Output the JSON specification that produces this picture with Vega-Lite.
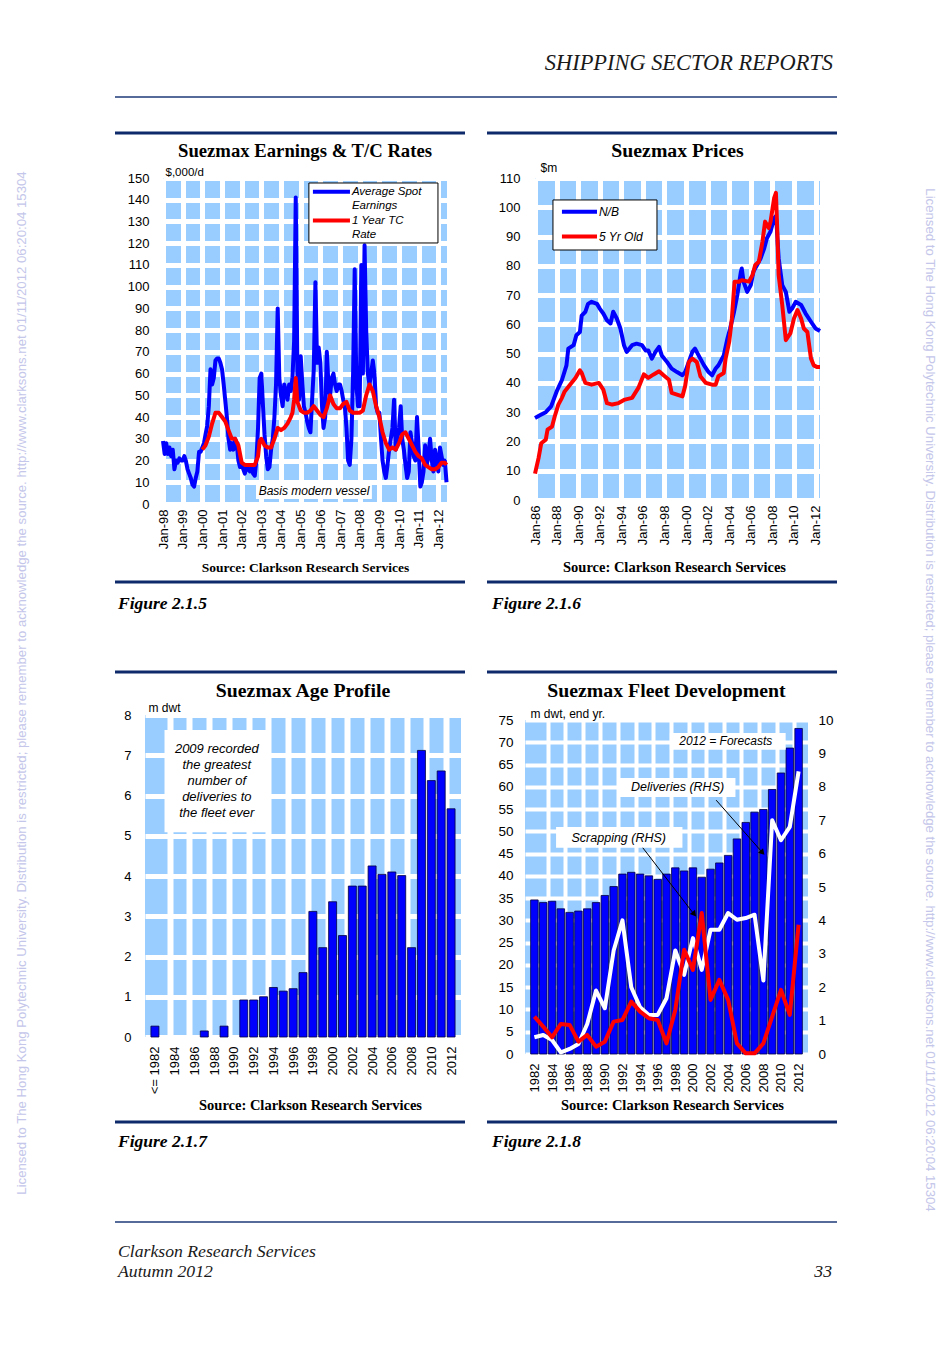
{
"$schema": "https://vega.github.io/schema/vega-lite/v6.json",
"background": "white",
"padding": 0,
"spacing": 0,
"bounds": "flush",
"config": {
  "view": {"stroke": null},
  "font": "Liberation Sans",
  "axis": {"labelFont": "Liberation Sans", "titleFont": "Liberation Sans", "labelColor": "#000000", "titleColor": "#000000", "domain": false, "ticks": false, "tickSize": 0},
  "title": {"font": "Liberation Serif", "fontWeight": "bold", "fontSize": 19.8, "color": "#000000", "anchor": "middle", "frame": "group"},
  "text": {"font": "Liberation Sans", "color": "#000000"}
},
"datasets": {
  "earnings": [
    {"d":"1998-01","spot":29},{"d":"1998-02","spot":23},{"d":"1998-03","spot":28},{"d":"1998-04","spot":23},{"d":"1998-05","spot":26},{"d":"1998-06","spot":22},{"d":"1998-07","spot":25},{"d":"1998-08","spot":16},{"d":"1998-09","spot":20},{"d":"1998-10","spot":19},{"d":"1998-11","spot":21},{"d":"1998-12","spot":20},
    {"d":"1999-01","spot":20},{"d":"1999-02","spot":22},{"d":"1999-03","spot":20},{"d":"1999-04","spot":16},{"d":"1999-05","spot":14},{"d":"1999-06","spot":12},{"d":"1999-07","spot":9},{"d":"1999-08","spot":8},{"d":"1999-09","spot":12},{"d":"1999-10","spot":15},{"d":"1999-11","spot":24},{"d":"1999-12","spot":24},
    {"d":"2000-01","spot":26,"tc":25},{"d":"2000-02","spot":28},{"d":"2000-03","spot":32,"tc":27},{"d":"2000-04","spot":36},{"d":"2000-05","spot":45,"tc":31},{"d":"2000-06","spot":62},{"d":"2000-07","spot":55,"tc":37},{"d":"2000-08","spot":58},{"d":"2000-09","spot":66,"tc":42},{"d":"2000-10","spot":67},{"d":"2000-11","spot":67,"tc":42},{"d":"2000-12","spot":65},
    {"d":"2001-01","spot":62,"tc":40},{"d":"2001-02","spot":55},{"d":"2001-03","spot":48,"tc":38},{"d":"2001-04","spot":40},{"d":"2001-05","spot":30,"tc":34},{"d":"2001-06","spot":25},{"d":"2001-07","spot":28,"tc":30},{"d":"2001-08","spot":25},{"d":"2001-09","spot":30,"tc":30},{"d":"2001-10","spot":28},{"d":"2001-11","spot":20,"tc":27},{"d":"2001-12","spot":17},
    {"d":"2002-01","spot":18,"tc":19},{"d":"2002-02","spot":16},{"d":"2002-03","spot":14,"tc":18},{"d":"2002-04","spot":17},{"d":"2002-05","spot":16,"tc":18},{"d":"2002-06","spot":15},{"d":"2002-07","spot":17,"tc":18},{"d":"2002-08","spot":14},{"d":"2002-09","spot":13,"tc":18},{"d":"2002-10","spot":20},{"d":"2002-11","spot":35,"tc":22},{"d":"2002-12","spot":58,"tc":29},
    {"d":"2003-01","spot":60,"tc":30},{"d":"2003-02","spot":45},{"d":"2003-03","spot":32,"tc":27},{"d":"2003-04","spot":22},{"d":"2003-05","spot":16,"tc":26},{"d":"2003-06","spot":17},{"d":"2003-07","spot":25,"tc":26},{"d":"2003-08","spot":30},{"d":"2003-09","spot":40,"tc":30},{"d":"2003-10","spot":55},{"d":"2003-11","spot":90,"tc":35},{"d":"2003-12","spot":58},
    {"d":"2004-01","spot":50,"tc":34},{"d":"2004-02","spot":45},{"d":"2004-03","spot":55,"tc":35},{"d":"2004-04","spot":52},{"d":"2004-05","spot":48,"tc":37},{"d":"2004-06","spot":55},{"d":"2004-07","spot":52,"tc":40},{"d":"2004-08","spot":58,"tc":42},{"d":"2004-09","spot":75,"tc":48},{"d":"2004-10","spot":141,"tc":58},{"d":"2004-11","spot":60,"tc":47},{"d":"2004-12","spot":48},
    {"d":"2005-01","spot":68,"tc":43},{"d":"2005-02","spot":55},{"d":"2005-03","spot":45,"tc":42},{"d":"2005-04","spot":42},{"d":"2005-05","spot":38,"tc":42},{"d":"2005-06","spot":35},{"d":"2005-07","spot":33,"tc":43},{"d":"2005-08","spot":48},{"d":"2005-09","spot":62,"tc":45},{"d":"2005-10","spot":102},{"d":"2005-11","spot":65,"tc":43},{"d":"2005-12","spot":72},
    {"d":"2006-01","spot":65,"tc":41},{"d":"2006-02","spot":45},{"d":"2006-03","spot":35,"tc":40},{"d":"2006-04","spot":40},{"d":"2006-05","spot":70,"tc":44},{"d":"2006-06","spot":55},{"d":"2006-07","spot":50,"tc":50},{"d":"2006-08","spot":58},{"d":"2006-09","spot":60,"tc":46},{"d":"2006-10","spot":55},{"d":"2006-11","spot":52,"tc":44},{"d":"2006-12","spot":55},
    {"d":"2007-01","spot":55,"tc":44},{"d":"2007-02","spot":52},{"d":"2007-03","spot":48,"tc":46},{"d":"2007-04","spot":45},{"d":"2007-05","spot":35,"tc":47},{"d":"2007-06","spot":20},{"d":"2007-07","spot":18,"tc":43},{"d":"2007-08","spot":30},{"d":"2007-09","spot":60,"tc":42},{"d":"2007-10","spot":108},{"d":"2007-11","spot":55,"tc":42},{"d":"2007-12","spot":45},
    {"d":"2008-01","spot":45,"tc":42},{"d":"2008-02","spot":110},{"d":"2008-03","spot":60,"tc":43},{"d":"2008-04","spot":119},{"d":"2008-05","spot":80,"tc":50},{"d":"2008-06","spot":60},{"d":"2008-07","spot":55,"tc":55},{"d":"2008-08","spot":60},{"d":"2008-09","spot":66,"tc":52},{"d":"2008-10","spot":60},{"d":"2008-11","spot":45,"tc":45},{"d":"2008-12","spot":42},
    {"d":"2009-01","spot":42,"tc":40},{"d":"2009-02","spot":30},{"d":"2009-03","spot":20,"tc":33},{"d":"2009-04","spot":15},{"d":"2009-05","spot":12,"tc":28},{"d":"2009-06","spot":18},{"d":"2009-07","spot":25,"tc":25},{"d":"2009-08","spot":30},{"d":"2009-09","spot":35,"tc":26},{"d":"2009-10","spot":48},{"d":"2009-11","spot":25,"tc":25},{"d":"2009-12","spot":30},
    {"d":"2010-01","spot":35,"tc":28},{"d":"2010-02","spot":45},{"d":"2010-03","spot":30,"tc":32},{"d":"2010-04","spot":25},{"d":"2010-05","spot":18,"tc":33},{"d":"2010-06","spot":12},{"d":"2010-07","spot":15,"tc":30},{"d":"2010-08","spot":33},{"d":"2010-09","spot":28,"tc":27},{"d":"2010-10","spot":22},{"d":"2010-11","spot":20,"tc":24},{"d":"2010-12","spot":40},
    {"d":"2011-01","spot":25,"tc":22},{"d":"2011-02","spot":8},{"d":"2011-03","spot":10,"tc":21},{"d":"2011-04","spot":15},{"d":"2011-05","spot":27,"tc":18},{"d":"2011-06","spot":18},{"d":"2011-07","spot":22,"tc":17},{"d":"2011-08","spot":30},{"d":"2011-09","spot":20,"tc":16},{"d":"2011-10","spot":15},{"d":"2011-11","spot":25,"tc":16},{"d":"2011-12","spot":20},
    {"d":"2012-01","spot":15,"tc":17},{"d":"2012-02","spot":26},{"d":"2012-03","spot":22,"tc":19},{"d":"2012-04","spot":18},{"d":"2012-05","spot":20,"tc":19},{"d":"2012-06","spot":10,"tc":18}
  ],
  "prices": [
    {"d":"1986-01","k":"N/B","v":28},{"d":"1986-07","k":"N/B","v":29},{"d":"1987-01","k":"N/B","v":30},{"d":"1987-07","k":"N/B","v":32},{"d":"1988-01","k":"N/B","v":37},{"d":"1988-07","k":"N/B","v":41},{"d":"1988-12","k":"N/B","v":46},{"d":"1989-02","k":"N/B","v":51.7},{"d":"1989-08","k":"N/B","v":52.9},{"d":"1989-11","k":"N/B","v":56.3},
    {"d":"1990-03","k":"N/B","v":57.4},{"d":"1990-05","k":"N/B","v":63},{"d":"1990-09","k":"N/B","v":64.3},{"d":"1990-12","k":"N/B","v":67},{"d":"1991-04","k":"N/B","v":67.7},{"d":"1991-10","k":"N/B","v":67},{"d":"1992-01","k":"N/B","v":65.4},{"d":"1992-05","k":"N/B","v":63.7},{"d":"1992-09","k":"N/B","v":61.4},{"d":"1993-01","k":"N/B","v":60.3},
    {"d":"1993-04","k":"N/B","v":64.3},{"d":"1993-08","k":"N/B","v":62},{"d":"1993-12","k":"N/B","v":58.6},{"d":"1994-04","k":"N/B","v":52.9},{"d":"1994-07","k":"N/B","v":50.6},{"d":"1995-01","k":"N/B","v":52.9},{"d":"1995-06","k":"N/B","v":53.4},{"d":"1995-12","k":"N/B","v":52.9},{"d":"1996-04","k":"N/B","v":51.1},{"d":"1996-07","k":"N/B","v":51.1},
    {"d":"1996-11","k":"N/B","v":48.3},{"d":"1997-03","k":"N/B","v":50.6},{"d":"1997-07","k":"N/B","v":52.3},{"d":"1997-10","k":"N/B","v":49.4},{"d":"1998-04","k":"N/B","v":47.1},{"d":"1998-09","k":"N/B","v":44.9},{"d":"1999-03","k":"N/B","v":43.7},{"d":"1999-09","k":"N/B","v":42.6},{"d":"1999-12","k":"N/B","v":43.7},{"d":"2000-04","k":"N/B","v":47.1},
    {"d":"2000-08","k":"N/B","v":50.6},{"d":"2000-11","k":"N/B","v":51.7},{"d":"2001-03","k":"N/B","v":49.4},{"d":"2001-09","k":"N/B","v":46},{"d":"2002-02","k":"N/B","v":43.7},{"d":"2002-06","k":"N/B","v":42.6},{"d":"2002-10","k":"N/B","v":44.9},{"d":"2003-01","k":"N/B","v":46},{"d":"2003-07","k":"N/B","v":49.4},{"d":"2003-11","k":"N/B","v":55.1},
    {"d":"2004-02","k":"N/B","v":58.6},{"d":"2004-06","k":"N/B","v":63.7},{"d":"2004-10","k":"N/B","v":70},{"d":"2005-02","k":"N/B","v":78},{"d":"2005-03","k":"N/B","v":79.1},{"d":"2005-05","k":"N/B","v":74.6},{"d":"2005-09","k":"N/B","v":71.1},{"d":"2006-01","k":"N/B","v":73.4},{"d":"2006-04","k":"N/B","v":78},{"d":"2006-08","k":"N/B","v":80.3},
    {"d":"2006-12","k":"N/B","v":82.6},{"d":"2007-04","k":"N/B","v":86},{"d":"2007-07","k":"N/B","v":89.4},{"d":"2007-11","k":"N/B","v":91.7},{"d":"2008-03","k":"N/B","v":96.3},{"d":"2008-05","k":"N/B","v":97},{"d":"2008-06","k":"N/B","v":92.9},{"d":"2008-08","k":"N/B","v":82.6},{"d":"2008-12","k":"N/B","v":73.4},{"d":"2009-04","k":"N/B","v":71.1},
    {"d":"2009-08","k":"N/B","v":64.3},{"d":"2009-11","k":"N/B","v":65.4},{"d":"2010-03","k":"N/B","v":67.7},{"d":"2010-09","k":"N/B","v":66.6},{"d":"2011-02","k":"N/B","v":63.7},{"d":"2011-08","k":"N/B","v":60.9},{"d":"2012-01","k":"N/B","v":58.6},{"d":"2012-06","k":"N/B","v":57.7},
    {"d":"1986-01","k":"5 Yr Old","v":9},{"d":"1986-05","k":"5 Yr Old","v":14.3},{"d":"1986-08","k":"5 Yr Old","v":19.4},{"d":"1987-01","k":"5 Yr Old","v":20.6},{"d":"1987-03","k":"5 Yr Old","v":24},{"d":"1987-08","k":"5 Yr Old","v":25.1},{"d":"1987-11","k":"5 Yr Old","v":28.6},{"d":"1988-03","k":"5 Yr Old","v":32.6},{"d":"1988-07","k":"5 Yr Old","v":34.9},{"d":"1988-10","k":"5 Yr Old","v":37.1},
    {"d":"1989-04","k":"5 Yr Old","v":39.4},{"d":"1989-10","k":"5 Yr Old","v":41.7},{"d":"1990-03","k":"5 Yr Old","v":44.3},{"d":"1990-05","k":"5 Yr Old","v":43.4},{"d":"1990-09","k":"5 Yr Old","v":40},{"d":"1991-04","k":"5 Yr Old","v":39.4},{"d":"1991-12","k":"5 Yr Old","v":40},{"d":"1992-05","k":"5 Yr Old","v":37.7},{"d":"1992-09","k":"5 Yr Old","v":33.1},{"d":"1993-03","k":"5 Yr Old","v":32.6},
    {"d":"1993-10","k":"5 Yr Old","v":33.1},{"d":"1994-05","k":"5 Yr Old","v":34.3},{"d":"1995-01","k":"5 Yr Old","v":34.9},{"d":"1995-08","k":"5 Yr Old","v":38.3},{"d":"1996-02","k":"5 Yr Old","v":42.9},{"d":"1996-07","k":"5 Yr Old","v":41.7},{"d":"1997-01","k":"5 Yr Old","v":42.9},{"d":"1997-07","k":"5 Yr Old","v":44},{"d":"1997-12","k":"5 Yr Old","v":42.6},{"d":"1998-06","k":"5 Yr Old","v":41.1},
    {"d":"1998-09","k":"5 Yr Old","v":36.6},{"d":"1999-03","k":"5 Yr Old","v":36},{"d":"1999-09","k":"5 Yr Old","v":35.4},{"d":"1999-12","k":"5 Yr Old","v":38.9},{"d":"2000-04","k":"5 Yr Old","v":47.1},{"d":"2000-08","k":"5 Yr Old","v":48.3},{"d":"2001-01","k":"5 Yr Old","v":47.1},{"d":"2001-05","k":"5 Yr Old","v":42.3},{"d":"2001-11","k":"5 Yr Old","v":40},{"d":"2002-06","k":"5 Yr Old","v":39.4},
    {"d":"2002-10","k":"5 Yr Old","v":39.4},{"d":"2003-01","k":"5 Yr Old","v":42.3},{"d":"2003-07","k":"5 Yr Old","v":43.4},{"d":"2003-09","k":"5 Yr Old","v":48.3},{"d":"2004-01","k":"5 Yr Old","v":54},{"d":"2004-04","k":"5 Yr Old","v":62},{"d":"2004-07","k":"5 Yr Old","v":74.6},{"d":"2004-12","k":"5 Yr Old","v":74.6},{"d":"2005-03","k":"5 Yr Old","v":75.1},{"d":"2005-11","k":"5 Yr Old","v":74.6},
    {"d":"2006-03","k":"5 Yr Old","v":76.9},{"d":"2006-06","k":"5 Yr Old","v":80.3},{"d":"2006-10","k":"5 Yr Old","v":81.4},{"d":"2007-02","k":"5 Yr Old","v":88.3},{"d":"2007-05","k":"5 Yr Old","v":95.1},{"d":"2007-09","k":"5 Yr Old","v":92.9},{"d":"2007-11","k":"5 Yr Old","v":95.1},{"d":"2008-03","k":"5 Yr Old","v":103.1},{"d":"2008-05","k":"5 Yr Old","v":104.9},{"d":"2008-06","k":"5 Yr Old","v":96.3},
    {"d":"2008-08","k":"5 Yr Old","v":76.9},{"d":"2008-12","k":"5 Yr Old","v":66.6},{"d":"2009-04","k":"5 Yr Old","v":54.6},{"d":"2009-09","k":"5 Yr Old","v":56.9},{"d":"2010-01","k":"5 Yr Old","v":62},{"d":"2010-05","k":"5 Yr Old","v":64.9},{"d":"2010-09","k":"5 Yr Old","v":62},{"d":"2010-12","k":"5 Yr Old","v":58.6},{"d":"2011-04","k":"5 Yr Old","v":57.4},{"d":"2011-08","k":"5 Yr Old","v":48.3},
    {"d":"2011-11","k":"5 Yr Old","v":46},{"d":"2012-03","k":"5 Yr Old","v":45.4},{"d":"2012-06","k":"5 Yr Old","v":45.4}
  ],
  "age": [
    {"year":1982,"dwt":0.27},{"year":1987,"dwt":0.15},{"year":1989,"dwt":0.27},{"year":1991,"dwt":0.92},{"year":1992,"dwt":0.92},{"year":1993,"dwt":1.0},{"year":1994,"dwt":1.23},{"year":1995,"dwt":1.14},{"year":1996,"dwt":1.2},{"year":1997,"dwt":1.6},
    {"year":1998,"dwt":3.12},{"year":1999,"dwt":2.22},{"year":2000,"dwt":3.36},{"year":2001,"dwt":2.52},{"year":2002,"dwt":3.75},{"year":2003,"dwt":3.75},{"year":2004,"dwt":4.25},{"year":2005,"dwt":4.04},{"year":2006,"dwt":4.1},{"year":2007,"dwt":4.01},
    {"year":2008,"dwt":2.22},{"year":2009,"dwt":7.12},{"year":2010,"dwt":6.37},{"year":2011,"dwt":6.61},{"year":2012,"dwt":5.67}
  ],
  "fleet": [
    {"year":1982,"fleet":34.6,"deliv":0.5,"scrap":1.12},{"year":1983,"fleet":34.0,"deliv":0.57,"scrap":0.82},{"year":1984,"fleet":34.3,"deliv":0.42,"scrap":0.5},{"year":1985,"fleet":32.6,"deliv":0.05,"scrap":0.9},{"year":1986,"fleet":31.8,"deliv":0.15,"scrap":0.87},
    {"year":1987,"fleet":32.1,"deliv":0.3,"scrap":0.37},{"year":1988,"fleet":32.6,"deliv":0.9,"scrap":0.57},{"year":1989,"fleet":34.0,"deliv":1.9,"scrap":0.22},{"year":1990,"fleet":35.6,"deliv":1.37,"scrap":0.37},{"year":1991,"fleet":37.6,"deliv":3.1,"scrap":0.97},
    {"year":1992,"fleet":40.4,"deliv":4.0,"scrap":1.02},{"year":1993,"fleet":40.8,"deliv":2.0,"scrap":1.57},{"year":1994,"fleet":40.4,"deliv":1.4,"scrap":1.27},{"year":1995,"fleet":40.0,"deliv":1.17,"scrap":1.07},{"year":1996,"fleet":39.2,"deliv":1.17,"scrap":1.02},
    {"year":1997,"fleet":40.4,"deliv":1.67,"scrap":0.32},{"year":1998,"fleet":41.8,"deliv":3.1,"scrap":1.32},{"year":1999,"fleet":41.1,"deliv":2.37,"scrap":3.12},{"year":2000,"fleet":41.8,"deliv":3.47,"scrap":2.52},{"year":2001,"fleet":39.7,"deliv":2.52,"scrap":4.22},
    {"year":2002,"fleet":41.5,"deliv":3.72,"scrap":1.62},{"year":2003,"fleet":42.9,"deliv":3.72,"scrap":2.22},{"year":2004,"fleet":44.6,"deliv":4.22,"scrap":1.62},{"year":2005,"fleet":48.3,"deliv":4.02,"scrap":0.32},{"year":2006,"fleet":52.0,"deliv":4.07,"scrap":0.02},
    {"year":2007,"fleet":54.3,"deliv":4.17,"scrap":0.02},{"year":2008,"fleet":54.9,"deliv":2.2,"scrap":0.32},{"year":2009,"fleet":59.4,"deliv":7.0,"scrap":1.12},{"year":2010,"fleet":63.1,"deliv":6.4,"scrap":1.92},{"year":2011,"fleet":68.7,"deliv":6.8,"scrap":1.17},
    {"year":2012,"fleet":73.1,"deliv":8.46,"scrap":3.87}
  ]
},
"vconcat": [
  {
    "width": 952, "height": 178,
    "view": {"fill": "white", "stroke": null},
    "data": {"values": [{}]},
    "layer": [
      {"mark": {"type": "text", "text": "SHIPPING SECTOR REPORTS", "font": "Liberation Serif", "fontStyle": "italic", "fontSize": 22.4, "align": "right", "baseline": "alphabetic", "color": "#1a1a1a"},
       "encoding": {"x": {"datum": 833, "type": "quantitative", "scale": {"domain": [0, 952], "nice": false, "zero": false}, "axis": null},
                    "y": {"datum": 70, "type": "quantitative", "scale": {"domain": [0, 178], "nice": false, "zero": false, "reverse": true}, "axis": null}}},
      {"mark": {"type": "rule", "color": "#1F3A7A", "strokeWidth": 1.5},
       "encoding": {"x": {"datum": 115, "type": "quantitative", "axis": null}, "x2": {"datum": 837}, "y": {"datum": 97, "type": "quantitative", "axis": null}}},
      {"mark": {"type": "rule", "color": "#0F2A6B", "strokeWidth": 3},
       "encoding": {"x": {"datum": 115, "type": "quantitative", "axis": null}, "x2": {"datum": 465}, "y": {"datum": 133, "type": "quantitative", "axis": null}}},
      {"mark": {"type": "rule", "color": "#0F2A6B", "strokeWidth": 3},
       "encoding": {"x": {"datum": 487, "type": "quantitative", "axis": null}, "x2": {"datum": 837}, "y": {"datum": 133, "type": "quantitative", "axis": null}}},
      {"mark": {"type": "text", "text": "Licensed to The Hong Kong Polytechnic University.  Distribution is restricted; please remember to acknowledge the source.  http://www.clarksons.net  01/11/2012 06:20:04 15304", "angle": 270, "fontSize": 13.2, "color": "#C4C6EA", "align": "center", "baseline": "middle"},
       "encoding": {"x": {"datum": 22, "type": "quantitative", "axis": null}, "y": {"datum": 683, "type": "quantitative", "axis": null}}},
      {"mark": {"type": "text", "text": "Licensed to The Hong Kong Polytechnic University.  Distribution is restricted; please remember to acknowledge the source.  http://www.clarksons.net  01/11/2012 06:20:04 15304", "angle": 90, "fontSize": 13.2, "color": "#C4C6EA", "align": "center", "baseline": "middle"},
       "encoding": {"x": {"datum": 930, "type": "quantitative", "axis": null}, "y": {"datum": 700, "type": "quantitative", "axis": null}}}
    ]
  },
  {
    "hconcat": [
      {"width": 163, "height": 1, "data": {"values": []}, "mark": "point"},
      {
        "width": 284, "height": 326,
        "view": {"fill": "#99CCFF", "stroke": null},
        "title": {"text": "Suezmax Earnings & T/C Rates", "offset": 6, "fontSize": 18.7},
        "resolve": {"axis": {"x": "independent", "y": "independent"}},
        "layer": [
          {
            "data": {"name": "earnings"},
            "transform": [{"fold": ["spot", "tc"], "as": ["k", "v"]}, {"filter": "isValid(datum.v)"}],
            "mark": {"type": "line", "strokeWidth": 4, "strokeJoin": "round"},
            "encoding": {
              "x": {"field": "d", "type": "temporal",
                "scale": {"domain": [{"year": 1998, "month": 1, "date": 1}, {"year": 2012, "month": 6, "date": 10}]},
                "axis": {"orient": "bottom", "values": [{"year":1998,"month":1,"date":1},{"year":1999,"month":1,"date":1},{"year":2000,"month":1,"date":1},{"year":2001,"month":1,"date":1},{"year":2002,"month":1,"date":1},{"year":2003,"month":1,"date":1},{"year":2004,"month":1,"date":1},{"year":2005,"month":1,"date":1},{"year":2006,"month":1,"date":1},{"year":2007,"month":1,"date":1},{"year":2008,"month":1,"date":1},{"year":2009,"month":1,"date":1},{"year":2010,"month":1,"date":1},{"year":2011,"month":1,"date":1},{"year":2012,"month":1,"date":1}],
                  "format": "%b-%y", "labelAngle": 270, "labelPadding": 5, "labelFontSize": 13, "labelFlush": false, "labelOverlap": false,
                  "grid": true, "gridColor": "white", "gridWidth": 5,
                  "title": "Source: Clarkson Research Services", "titleFont": "Liberation Serif", "titleFontSize": 13.5, "titleFontWeight": "bold", "titleBaseline": "middle", "titleY": 63}},
              "y": {"field": "v", "type": "quantitative", "scale": {"domain": [0, 150], "nice": false},
                "axis": {"orient": "left", "values": [0,10,20,30,40,50,60,70,80,90,100,110,120,130,140,150], "grid": true, "gridColor": "white", "gridWidth": 5, "labelPadding": 14, "labelFontSize": 13, "labelOverlap": false,
                  "title": "$,000/d", "titleAngle": 0, "titleAlign": "left", "titleBaseline": "alphabetic", "titleX": 2, "titleY": -2.5, "titleFontSize": 11.5, "titleFontWeight": "normal"}},
              "color": {"field": "k", "type": "nominal", "scale": {"domain": ["spot", "tc"], "range": ["#0000FF", "#FF0000"]}, "legend": null}
            }
          },
          {
            "data": {"values": [{}]},
            "mark": {"type": "rect", "fill": "white", "stroke": "black", "strokeWidth": 1},
            "encoding": {"x": {"datum": {"year": 2005, "month": 6, "date": 2}, "type": "temporal", "axis": null}, "x2": {"datum": {"year": 2011, "month": 12, "date": 25}},
                         "y": {"datum": 147.7, "type": "quantitative", "axis": null}, "y2": {"datum": 120.1}}
          },
          {
            "data": {"values": [{}]},
            "mark": {"type": "rule", "color": "#0000FF", "strokeWidth": 4},
            "encoding": {"x": {"datum": {"year": 2005, "month": 8, "date": 16}, "type": "temporal", "axis": null}, "x2": {"datum": {"year": 2007, "month": 7, "date": 5}},
                         "y": {"datum": 143.7, "type": "quantitative", "axis": null}}
          },
          {
            "data": {"values": [{}]},
            "mark": {"type": "rule", "color": "#FF0000", "strokeWidth": 4},
            "encoding": {"x": {"datum": {"year": 2005, "month": 8, "date": 16}, "type": "temporal", "axis": null}, "x2": {"datum": {"year": 2007, "month": 7, "date": 5}},
                         "y": {"datum": 130.4, "type": "quantitative", "axis": null}}
          },
          {
            "data": {"values": [{}]},
            "mark": {"type": "text", "text": ["Average Spot", "Earnings"], "fontStyle": "italic", "fontSize": 11.5, "lineHeight": 14.3, "align": "left", "baseline": "middle"},
            "encoding": {"x": {"datum": {"year": 2007, "month": 8, "date": 10}, "type": "temporal", "axis": null}, "y": {"datum": 143.7, "type": "quantitative", "axis": null}}
          },
          {
            "data": {"values": [{}]},
            "mark": {"type": "text", "text": ["1 Year TC", "Rate"], "fontStyle": "italic", "fontSize": 11.5, "lineHeight": 14.3, "align": "left", "baseline": "middle"},
            "encoding": {"x": {"datum": {"year": 2007, "month": 8, "date": 10}, "type": "temporal", "axis": null}, "y": {"datum": 130.4, "type": "quantitative", "axis": null}}
          },
          {
            "data": {"values": [{}]},
            "mark": {"type": "rect", "fill": "white"},
            "encoding": {"x": {"datum": {"year": 2002, "month": 9, "date": 24}, "type": "temporal", "axis": null}, "x2": {"datum": {"year": 2008, "month": 8, "date": 15}},
                         "y": {"datum": 9.7, "type": "quantitative", "axis": null}, "y2": {"datum": 2.3}}
          },
          {
            "data": {"values": [{}]},
            "mark": {"type": "text", "text": "Basis modern vessel", "fontStyle": "italic", "fontSize": 12, "align": "center", "baseline": "middle"},
            "encoding": {"x": {"datum": {"year": 2005, "month": 9, "date": 5}, "type": "temporal", "axis": null}, "y": {"datum": 6, "type": "quantitative", "axis": null}}
          }
        ]
      },
      {"width": 88, "height": 1, "data": {"values": []}, "mark": "point"},
      {
        "width": 285, "height": 322,
        "view": {"fill": "#99CCFF", "stroke": null},
        "title": {"text": "Suezmax Prices", "offset": 0},
        "resolve": {"axis": {"x": "independent", "y": "independent"}},
        "layer": [
          {
            "data": {"name": "prices"},
            "mark": {"type": "line", "strokeWidth": 4, "strokeJoin": "round"},
            "encoding": {
              "x": {"field": "d", "type": "temporal",
                "scale": {"domain": [{"year": 1986, "month": 1, "date": 1}, {"year": 2012, "month": 6, "date": 1}]},
                "axis": {"orient": "bottom", "values": [{"year":1986,"month":1,"date":1},{"year":1988,"month":1,"date":1},{"year":1990,"month":1,"date":1},{"year":1992,"month":1,"date":1},{"year":1994,"month":1,"date":1},{"year":1996,"month":1,"date":1},{"year":1998,"month":1,"date":1},{"year":2000,"month":1,"date":1},{"year":2002,"month":1,"date":1},{"year":2004,"month":1,"date":1},{"year":2006,"month":1,"date":1},{"year":2008,"month":1,"date":1},{"year":2010,"month":1,"date":1},{"year":2012,"month":1,"date":1}],
                  "format": "%b-%y", "labelAngle": 270, "labelPadding": 5, "labelFontSize": 13, "labelFlush": false, "labelOverlap": false,
                  "grid": true, "gridColor": "white", "gridWidth": 5,
                  "title": "Source: Clarkson Research Services", "titleFont": "Liberation Serif", "titleFontSize": 14.5, "titleFontWeight": "bold", "titleBaseline": "middle", "titleY": 67, "titleX": 139}},
              "y": {"field": "v", "type": "quantitative", "scale": {"domain": [0, 110], "nice": false},
                "axis": {"orient": "left", "values": [0,10,20,30,40,50,60,70,80,90,100,110], "grid": true, "gridColor": "white", "gridWidth": 5, "labelPadding": 15, "labelFontSize": 13, "labelOverlap": false,
                  "title": "$m", "titleAngle": 0, "titleAlign": "left", "titleBaseline": "alphabetic", "titleX": 5, "titleY": -7, "titleFontSize": 12, "titleFontWeight": "normal"}},
              "color": {"field": "k", "type": "nominal", "scale": {"domain": ["N/B", "5 Yr Old"], "range": ["#0000FF", "#FF0000"]}, "legend": null}
            }
          },
          {
            "data": {"values": [{}]},
            "mark": {"type": "rect", "fill": "white", "stroke": "black", "strokeWidth": 1},
            "encoding": {"x": {"datum": {"year": 1987, "month": 9, "date": 1}, "type": "temporal", "axis": null}, "x2": {"datum": {"year": 1997, "month": 4, "date": 22}},
                         "y": {"datum": 102.5, "type": "quantitative", "axis": null}, "y2": {"datum": 85.4}}
          },
          {
            "data": {"values": [{}]},
            "mark": {"type": "rule", "color": "#0000FF", "strokeWidth": 4},
            "encoding": {"x": {"datum": {"year": 1988, "month": 7, "date": 1}, "type": "temporal", "axis": null}, "x2": {"datum": {"year": 1991, "month": 10, "date": 1}},
                         "y": {"datum": 98.5, "type": "quantitative", "axis": null}}
          },
          {
            "data": {"values": [{}]},
            "mark": {"type": "rule", "color": "#FF0000", "strokeWidth": 4},
            "encoding": {"x": {"datum": {"year": 1988, "month": 7, "date": 1}, "type": "temporal", "axis": null}, "x2": {"datum": {"year": 1991, "month": 10, "date": 1}},
                         "y": {"datum": 90.0, "type": "quantitative", "axis": null}}
          },
          {
            "data": {"values": [{}]},
            "mark": {"type": "text", "text": "N/B", "fontStyle": "italic", "fontSize": 12, "align": "left", "baseline": "middle"},
            "encoding": {"x": {"datum": {"year": 1991, "month": 12, "date": 5}, "type": "temporal", "axis": null}, "y": {"datum": 98.5, "type": "quantitative", "axis": null}}
          },
          {
            "data": {"values": [{}]},
            "mark": {"type": "text", "text": "5 Yr Old", "fontStyle": "italic", "fontSize": 12, "align": "left", "baseline": "middle"},
            "encoding": {"x": {"datum": {"year": 1991, "month": 12, "date": 5}, "type": "temporal", "axis": null}, "y": {"datum": 90.0, "type": "quantitative", "axis": null}}
          }
        ]
      }
    ],
    "spacing": 0, "bounds": "flush"
  },
  {"width": 1, "height": 326, "data": {"values": []}, "mark": "point"},
  {
    "width": 952, "height": 211,
    "data": {"values": [{}]},
    "layer": [
      {"mark": {"type": "rule", "color": "#0F2A6B", "strokeWidth": 3},
       "encoding": {"x": {"datum": 115, "type": "quantitative", "scale": {"domain": [0, 952], "nice": false, "zero": false}, "axis": null}, "x2": {"datum": 465},
                    "y": {"datum": 582, "type": "quantitative", "scale": {"domain": [504, 715], "nice": false, "zero": false, "reverse": true}, "axis": null}}},
      {"mark": {"type": "rule", "color": "#0F2A6B", "strokeWidth": 3},
       "encoding": {"x": {"datum": 487, "type": "quantitative", "axis": null}, "x2": {"datum": 837}, "y": {"datum": 582, "type": "quantitative", "axis": null}}},
      {"mark": {"type": "text", "text": "Figure 2.1.5", "font": "Liberation Serif", "fontStyle": "italic", "fontWeight": "bold", "fontSize": 17.5, "align": "left", "baseline": "alphabetic"},
       "encoding": {"x": {"datum": 118, "type": "quantitative", "axis": null}, "y": {"datum": 609, "type": "quantitative", "axis": null}}},
      {"mark": {"type": "text", "text": "Figure 2.1.6", "font": "Liberation Serif", "fontStyle": "italic", "fontWeight": "bold", "fontSize": 17.5, "align": "left", "baseline": "alphabetic"},
       "encoding": {"x": {"datum": 492, "type": "quantitative", "axis": null}, "y": {"datum": 609, "type": "quantitative", "axis": null}}},
      {"mark": {"type": "rule", "color": "#0F2A6B", "strokeWidth": 3},
       "encoding": {"x": {"datum": 115, "type": "quantitative", "axis": null}, "x2": {"datum": 465}, "y": {"datum": 672, "type": "quantitative", "axis": null}}},
      {"mark": {"type": "rule", "color": "#0F2A6B", "strokeWidth": 3},
       "encoding": {"x": {"datum": 487, "type": "quantitative", "axis": null}, "x2": {"datum": 837}, "y": {"datum": 672, "type": "quantitative", "axis": null}}}
    ]
  },
  {
    "hconcat": [
      {"width": 145, "height": 1, "data": {"values": []}, "mark": "point"},
      {
        "width": 316, "height": 322,
        "view": {"fill": "#99CCFF", "stroke": null},
        "title": {"text": "Suezmax Age Profile", "offset": 0},
        "resolve": {"axis": {"x": "independent", "y": "independent"}},
        "layer": [
          {
            "data": {"name": "age"},
            "mark": {"type": "bar", "orient": "vertical", "width": 8, "color": "#0000FF", "stroke": "#000040", "strokeWidth": 0.8},
            "encoding": {
              "x": {"field": "year", "type": "quantitative", "scale": {"domain": [1981.5, 2012.5], "nice": false, "zero": false},
                "axis": {"orient": "bottom", "values": [1982,1983.5,1984,1985.5,1986,1987.5,1988,1989.5,1990,1991.5,1992,1993.5,1994,1995.5,1996,1997.5,1998,1999.5,2000,2001.5,2002,2003.5,2004,2005.5,2006,2007.5,2008,2009.5,2010,2011.5,2012],
                  "format": "d", "labelExpr": "datum.value == 1982 ? '<= 1982' : (datum.value % 2 == 0 ? datum.label : '')",
                  "labelAngle": 270, "labelPadding": 9, "labelFontSize": 13, "labelFlush": false, "labelOverlap": false,
                  "grid": true, "gridColor": "white", "gridWidth": 6, "gridOpacity": {"condition": {"test": "datum.value % 1 != 0", "value": 1}, "value": 0},
                  "title": "Source: Clarkson Research Services", "titleFont": "Liberation Serif", "titleFontSize": 14.5, "titleFontWeight": "bold", "titleBaseline": "middle", "titleY": 68, "titleX": 165}},
              "y": {"field": "dwt", "type": "quantitative", "scale": {"domain": [0, 8], "nice": false},
                "axis": {"orient": "left", "values": [0,1,2,3,4,5,6,7,8], "grid": true, "gridColor": "white", "gridWidth": 5, "labelPadding": 14, "labelFontSize": 13,
                  "title": "m dwt", "titleAngle": 0, "titleAlign": "left", "titleBaseline": "alphabetic", "titleX": 3, "titleY": -4, "titleFontSize": 12, "titleFontWeight": "normal"}}
            }
          },
          {
            "data": {"values": [{}]},
            "mark": {"type": "rect", "fill": "white"},
            "encoding": {"x": {"datum": 1982.97, "type": "quantitative", "axis": null}, "x2": {"datum": 1993.28}, "y": {"datum": 7.63, "type": "quantitative", "axis": null}, "y2": {"datum": 5.09}}
          },
          {
            "data": {"values": [{}]},
            "mark": {"type": "text", "text": ["2009 recorded", "the greatest", "number of", "deliveries to", "the fleet ever"], "fontStyle": "italic", "fontSize": 13, "lineHeight": 16.1, "align": "center", "baseline": "middle"},
            "encoding": {"x": {"datum": 1988.27, "type": "quantitative", "axis": null}, "y": {"datum": 7.155, "type": "quantitative", "axis": null}}
          }
        ]
      },
      {"width": 64, "height": 1, "data": {"values": []}, "mark": "point"},
      {
        "vconcat": [
          {"width": 283, "height": 1, "data": {"values": []}, "mark": "point"},
          {
            "width": 283, "height": 334,
            "view": {"fill": "#99CCFF", "stroke": null},
            "title": {"text": "Suezmax Fleet Development", "offset": 6.5},
            "resolve": {"scale": {"y": "independent"}, "axis": {"x": "independent", "y": "independent"}},
            "layer": [
              {
                "data": {"name": "fleet"},
                "mark": {"type": "bar", "orient": "vertical", "width": 7.5, "color": "#0000FF", "stroke": "#000040", "strokeWidth": 0.8},
                "encoding": {
                  "x": {"field": "year", "type": "quantitative", "scale": {"domain": [1981.5, 2012.5], "nice": false, "zero": false},
                    "axis": {"orient": "bottom", "values": [1982,1983.5,1984,1985.5,1986,1987.5,1988,1989.5,1990,1991.5,1992,1993.5,1994,1995.5,1996,1997.5,1998,1999.5,2000,2001.5,2002,2003.5,2004,2005.5,2006,2007.5,2008,2009.5,2010,2011.5,2012],
                      "format": "d", "labelExpr": "datum.value % 2 == 0 ? datum.label : ''",
                      "labelAngle": 270, "labelPadding": 9, "labelFontSize": 13, "labelFlush": false, "labelOverlap": false,
                      "grid": true, "gridColor": "white", "gridWidth": 4, "gridOpacity": {"condition": {"test": "datum.value % 1 != 0", "value": 1}, "value": 0},
                      "title": "Source: Clarkson Research Services", "titleFont": "Liberation Serif", "titleFontSize": 14.5, "titleFontWeight": "bold", "titleBaseline": "middle", "titleY": 51, "titleX": 147}},
                  "y": {"field": "fleet", "type": "quantitative", "scale": {"domain": [0, 75], "nice": false},
                    "axis": {"orient": "left", "values": [0,5,10,15,20,25,30,35,40,45,50,55,60,65,70,75], "grid": true, "gridColor": "white", "gridWidth": 4, "labelPadding": 12, "labelFontSize": 13.5,
                      "title": "m dwt, end yr.", "titleAngle": 0, "titleAlign": "left", "titleBaseline": "alphabetic", "titleX": 5, "titleY": -3, "titleFontSize": 12, "titleFontWeight": "normal"}}
                }
              },
              {
                "data": {"name": "fleet"},
                "resolve": {"axis": {"x": "independent", "y": "independent"}},
                "layer": [
                  {
                    "mark": {"type": "line", "color": "#FFFFFF", "strokeWidth": 4, "strokeJoin": "round"},
                    "encoding": {
                      "x": {"field": "year", "type": "quantitative", "axis": null},
                      "y": {"field": "deliv", "type": "quantitative", "scale": {"domain": [0, 10], "nice": false},
                        "axis": {"orient": "right", "values": [0,1,2,3,4,5,6,7,8,9,10], "grid": false, "labelPadding": 10, "labelFontSize": 13.5, "title": null}}
                    }
                  },
                  {
                    "mark": {"type": "line", "color": "#FF0000", "strokeWidth": 4, "strokeJoin": "round"},
                    "encoding": {
                      "x": {"field": "year", "type": "quantitative", "axis": null},
                      "y": {"field": "scrap", "type": "quantitative", "axis": null}
                    }
                  }
                ]
              },
              {
                "data": {"values": [{}]},
                "layer": [
                  {"mark": {"type": "rect", "fill": "white"},
                   "encoding": {"x": {"datum": 1997.38, "type": "quantitative", "axis": null}, "x2": {"datum": 2010.53}, "y": {"datum": 72.1, "type": "quantitative", "scale": {"domain": [0, 75], "nice": false}, "axis": null}, "y2": {"datum": 68.3}}},
                  {"mark": {"type": "rect", "fill": "white"},
                   "encoding": {"x": {"datum": 1991.69, "type": "quantitative", "axis": null}, "x2": {"datum": 2004.83}, "y": {"datum": 62.0, "type": "quantitative", "axis": null}, "y2": {"datum": 57.7}}},
                  {"mark": {"type": "rect", "fill": "white"},
                   "encoding": {"x": {"datum": 1984.46, "type": "quantitative", "axis": null}, "x2": {"datum": 1998.81}, "y": {"datum": 51.0, "type": "quantitative", "axis": null}, "y2": {"datum": 46.3}}},
                  {"mark": {"type": "text", "text": "2012 = Forecasts", "fontStyle": "italic", "fontSize": 12, "align": "center", "baseline": "middle"},
                   "encoding": {"x": {"datum": 2003.73, "type": "quantitative", "axis": null}, "y": {"datum": 70.3, "type": "quantitative", "axis": null}}},
                  {"mark": {"type": "text", "text": "Deliveries (RHS)", "fontStyle": "italic", "fontSize": 12.5, "align": "center", "baseline": "middle"},
                   "encoding": {"x": {"datum": 1998.26, "type": "quantitative", "axis": null}, "y": {"datum": 60.0, "type": "quantitative", "axis": null}}},
                  {"mark": {"type": "text", "text": "Scrapping (RHS)", "fontStyle": "italic", "fontSize": 12.5, "align": "center", "baseline": "middle"},
                   "encoding": {"x": {"datum": 1991.58, "type": "quantitative", "axis": null}, "y": {"datum": 48.5, "type": "quantitative", "axis": null}}},
                  {"mark": {"type": "rule", "color": "black", "strokeWidth": 1},
                   "encoding": {"x": {"datum": 2002.64, "type": "quantitative", "axis": null}, "y": {"datum": 57.0, "type": "quantitative", "axis": null}, "x2": {"datum": 2008.0}, "y2": {"datum": 45.0}}},
                  {"mark": {"type": "rule", "color": "black", "strokeWidth": 1},
                   "encoding": {"x": {"datum": 1994.31, "type": "quantitative", "axis": null}, "y": {"datum": 46.3, "type": "quantitative", "axis": null}, "x2": {"datum": 2000.2}, "y2": {"datum": 31.2}}},
                  {"mark": {"type": "point", "shape": "triangle-up", "filled": true, "color": "black", "opacity": 1, "size": 45, "angle": 138},
                   "encoding": {"x": {"datum": 2007.9, "type": "quantitative", "axis": null}, "y": {"datum": 45.2, "type": "quantitative", "axis": null}}},
                  {"mark": {"type": "point", "shape": "triangle-up", "filled": true, "color": "black", "opacity": 1, "size": 45, "angle": 141},
                   "encoding": {"x": {"datum": 2000.15, "type": "quantitative", "axis": null}, "y": {"datum": 31.4, "type": "quantitative", "axis": null}}}
                ]
              }
            ]
          }
        ],
        "spacing": 4, "bounds": "flush"
      }
    ],
    "spacing": 0, "bounds": "flush"
  },
  {"width": 1, "height": 339, "data": {"values": []}, "mark": "point"},
  {
    "width": 952, "height": 293,
    "data": {"values": [{}]},
    "layer": [
      {"mark": {"type": "rule", "color": "#0F2A6B", "strokeWidth": 3},
       "encoding": {"x": {"datum": 115, "type": "quantitative", "scale": {"domain": [0, 952], "nice": false, "zero": false}, "axis": null}, "x2": {"datum": 465},
                    "y": {"datum": 1122, "type": "quantitative", "scale": {"domain": [1054, 1347], "nice": false, "zero": false, "reverse": true}, "axis": null}}},
      {"mark": {"type": "rule", "color": "#0F2A6B", "strokeWidth": 3},
       "encoding": {"x": {"datum": 487, "type": "quantitative", "axis": null}, "x2": {"datum": 837}, "y": {"datum": 1122, "type": "quantitative", "axis": null}}},
      {"mark": {"type": "text", "text": "Figure 2.1.7", "font": "Liberation Serif", "fontStyle": "italic", "fontWeight": "bold", "fontSize": 17.5, "align": "left", "baseline": "alphabetic"},
       "encoding": {"x": {"datum": 118, "type": "quantitative", "axis": null}, "y": {"datum": 1147, "type": "quantitative", "axis": null}}},
      {"mark": {"type": "text", "text": "Figure 2.1.8", "font": "Liberation Serif", "fontStyle": "italic", "fontWeight": "bold", "fontSize": 17.5, "align": "left", "baseline": "alphabetic"},
       "encoding": {"x": {"datum": 492, "type": "quantitative", "axis": null}, "y": {"datum": 1147, "type": "quantitative", "axis": null}}},
      {"mark": {"type": "rule", "color": "#1F3A7A", "strokeWidth": 1.5},
       "encoding": {"x": {"datum": 115, "type": "quantitative", "axis": null}, "x2": {"datum": 837}, "y": {"datum": 1222, "type": "quantitative", "axis": null}}},
      {"mark": {"type": "text", "text": "Clarkson Research Services", "font": "Liberation Serif", "fontStyle": "italic", "fontSize": 17.7, "align": "left", "baseline": "alphabetic", "color": "#1a1a1a"},
       "encoding": {"x": {"datum": 118, "type": "quantitative", "axis": null}, "y": {"datum": 1257, "type": "quantitative", "axis": null}}},
      {"mark": {"type": "text", "text": "Autumn 2012", "font": "Liberation Serif", "fontStyle": "italic", "fontSize": 17.7, "align": "left", "baseline": "alphabetic", "color": "#1a1a1a"},
       "encoding": {"x": {"datum": 118, "type": "quantitative", "axis": null}, "y": {"datum": 1277, "type": "quantitative", "axis": null}}},
      {"mark": {"type": "text", "text": "33", "font": "Liberation Serif", "fontStyle": "italic", "fontSize": 17.7, "align": "right", "baseline": "alphabetic", "color": "#1a1a1a"},
       "encoding": {"x": {"datum": 832, "type": "quantitative", "axis": null}, "y": {"datum": 1277, "type": "quantitative", "axis": null}}}
    ]
  }
]
}
